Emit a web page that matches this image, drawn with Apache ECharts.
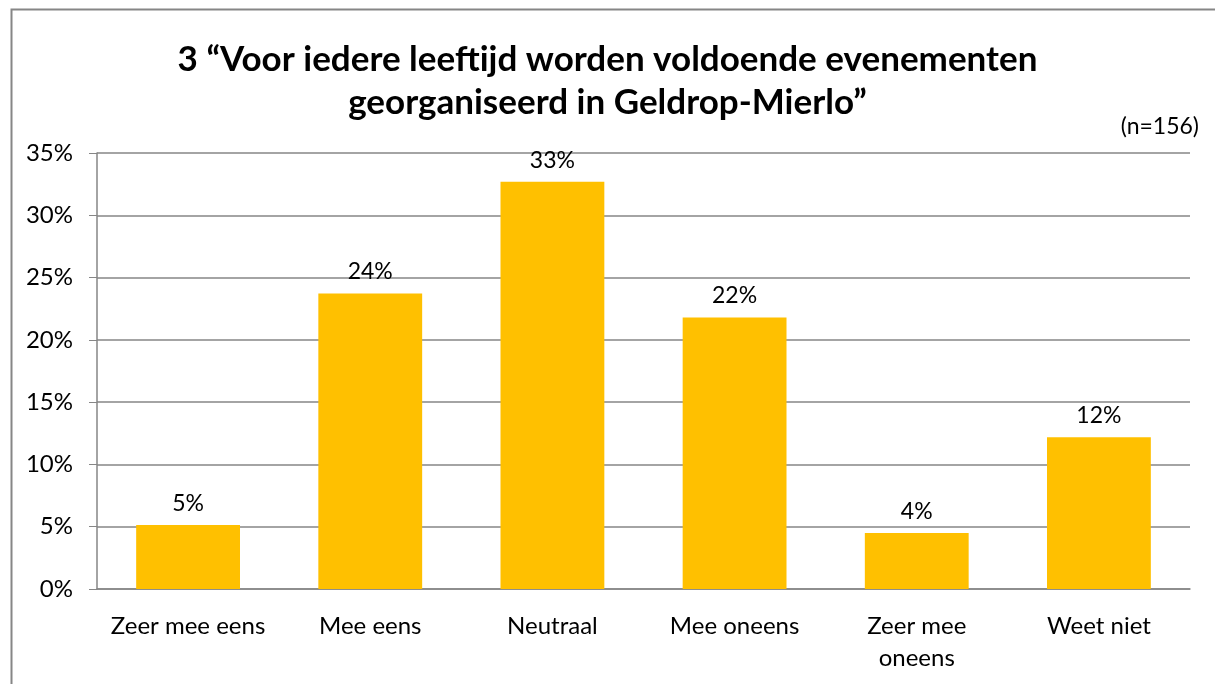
<!DOCTYPE html>
<html>
<head>
<meta charset="utf-8">
<script src="https://cdn.jsdelivr.net/npm/echarts@6/dist/echarts.min.js"></script>
<style>
  html, body { margin: 0; padding: 0; background: #fff; }
  #chart { width: 1215px; height: 684px; }
</style>
</head>
<body>
<div id="chart"></div>
<script>
// antwoordcategorieen en percentages (n=156)
var categories = ['Zeer mee eens', 'Mee eens', 'Neutraal', 'Mee oneens', 'Zeer mee\noneens', 'Weet niet'];
var percentages = [5.13, 23.72, 32.69, 21.79, 4.49, 12.18];
var yTicks = [0, 5, 10, 15, 20, 25, 30, 35];

var font = 'Lato, "Open Sans", sans-serif';
var chart = echarts.init(document.getElementById('chart'));

chart.setOption({
    animation: false,
    title: {
        text: '3 \u201cVoor iedere leeftijd worden voldoende evenementen\ngeorganiseerd in Geldrop-Mierlo\u201d',
        left: 'center',
        top: 33,
        textStyle: {
            fontFamily: font,
            fontSize: 35,
            fontWeight: 'bold',
            color: '#000',
            lineHeight: 43
        }
    },
    graphic: [
        {
            type: 'rect',
            left: 9, top: 7,
            shape: { width: 1400, height: 900 },
            style: { fill: 'none', stroke: '#868686', lineWidth: 2 },
            silent: true
        },
        {
            type: 'text',
            right: 16, top: 115,
            style: { text: '(n=156)', fontFamily: font, fontSize: 23, fill: '#000' }
        }
    ],
    grid: { left: 97, right: 25, top: 153, bottom: 95 },
    xAxis: {
        type: 'category',
        data: categories,
        axisLine: { lineStyle: { color: '#868686', width: 1.5 } },
        axisTick: { length: 7, lineStyle: { color: '#868686' } },
        axisLabel: {
            fontFamily: font,
            fontSize: 24,
            color: '#000',
            margin: 21,
            lineHeight: 32,
            interval: 0
        }
    },
    yAxis: {
        type: 'value',
        min: yTicks[0],
        max: yTicks[yTicks.length - 1],
        interval: 5,
        axisLine: { show: true, lineStyle: { color: '#868686', width: 1.5 } },
        axisTick: { show: true, length: 8, lineStyle: { color: '#868686' } },
        splitLine: { lineStyle: { color: '#868686', width: 1.5 } },
        axisLabel: {
            fontFamily: font,
            fontSize: 24,
            color: '#000',
            margin: 24,
            formatter: '{value}%'
        }
    },
    series: [{
        type: 'bar',
        data: percentages,
        barCategoryGap: '43%',
        itemStyle: { color: '#FFC000' },
        label: {
            show: true,
            position: 'top',
            distance: 10,
            fontFamily: font,
            fontSize: 23,
            color: '#000',
            formatter: function (p) { return Math.round(p.value) + '%'; }
        }
    }]
});
</script>
</body>
</html>
